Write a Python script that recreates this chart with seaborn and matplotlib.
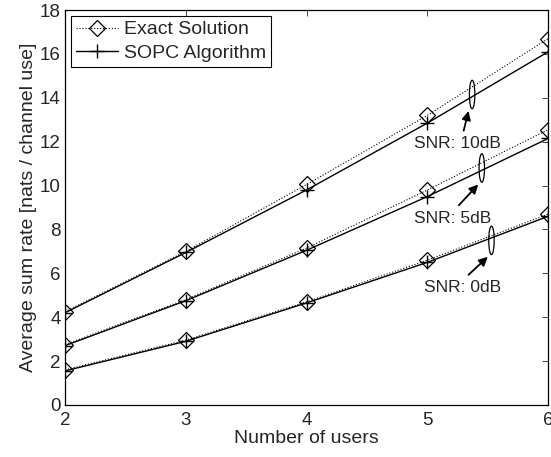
import pandas as pd
import matplotlib.pyplot as plt
import seaborn as sns
from matplotlib.patches import Ellipse
from matplotlib.lines import Line2D

#%% data
users = [2, 3, 4, 5, 6]
snr_labels = ['SNR: 10dB', 'SNR: 5dB', 'SNR: 0dB']
exact_10db = [4.25, 7.0, 10.05, 13.2, 16.7]
sopc_10db = [4.2, 6.95, 9.8, 12.85, 16.1]
exact_5db = [2.75, 4.8, 7.15, 9.8, 12.55]
sopc_5db = [2.7, 4.75, 7.05, 9.5, 12.15]
exact_0db = [1.6, 2.95, 4.7, 6.6, 8.7]
sopc_0db = [1.55, 2.9, 4.65, 6.5, 8.6]

rows = []
for snr, ex, so in zip(snr_labels, [exact_10db, exact_5db, exact_0db],
                       [sopc_10db, sopc_5db, sopc_0db]):
    for u, e, s in zip(users, ex, so):
        rows.append((snr, 'Exact Solution', u, e))
        rows.append((snr, 'SOPC Algorithm', u, s))
df = pd.DataFrame(rows, columns=['snr', 'method', 'users', 'rate'])

#%% plot
sns.set_style('white')
plt.rcParams['font.family'] = ['Liberation Sans', 'DejaVu Sans']
plt.rcParams['xtick.direction'] = 'in'
plt.rcParams['ytick.direction'] = 'in'

fig = plt.figure(figsize=(5.51, 4.57), dpi=100)
ax = fig.add_axes([0.118, 0.114, 0.877, 0.864])

for snr in snr_labels:
    d = df[df.snr == snr]
    sns.lineplot(data=d[d.method == 'Exact Solution'], x='users', y='rate', ax=ax,
                 color='black', linestyle=':', linewidth=0.8, marker='D',
                 markersize=8.5, markerfacecolor='none', markeredgecolor='black',
                 markeredgewidth=0.9)
    sns.lineplot(data=d[d.method == 'SOPC Algorithm'], x='users', y='rate', ax=ax,
                 color='black', linestyle='-', linewidth=1.0, marker='+',
                 markersize=10, markeredgecolor='black', markeredgewidth=1.0)

# ellipses + arrows for the SNR groups
ell_pos = [(5.37, 14.15), (5.45, 10.8), (5.53, 7.5)]
txt_pos = [(5.25, 11.9), (5.21, 8.5), (5.29, 5.33)]
for lab, (ex, ey), (tx, ty) in zip(snr_labels, ell_pos, txt_pos):
    ax.add_patch(Ellipse((ex, ey), 0.045, 1.3, fill=False, edgecolor='black', linewidth=0.9))
    ax.annotate('', xy=(ex - 0.03, ey - 0.75), xytext=(tx + 0.05, ty + 0.6),
                arrowprops=dict(arrowstyle='-|>', color='black', lw=1.3,
                                mutation_scale=13, shrinkA=0, shrinkB=0))
    ax.text(tx, ty, lab, ha='center', va='center', fontsize=12.5)

ax.set_xlim(2, 6)
ax.set_ylim(0, 18)
ax.set_xticks(users)
ax.set_yticks(range(0, 19, 2))
ax.tick_params(top=True, right=True, labelsize=13.5, length=4, width=0.6)
ax.tick_params(axis='x', pad=5)
ax.tick_params(axis='y', pad=3)
ax.set_xlabel('Number of users', fontsize=14, labelpad=1)
ax.set_ylabel('Average sum rate [nats / channel use]', fontsize=14, labelpad=2)
for s in ax.spines.values():
    s.set_color('black')
    s.set_linewidth(0.9)

handles = [Line2D([], [], color='black', linestyle=':', linewidth=0.8, marker='D',
                  markersize=8.5, markerfacecolor='none', markeredgewidth=0.9),
           Line2D([], [], color='black', linestyle='-', linewidth=1.0, marker='+',
                  markersize=10, markeredgewidth=1.0)]
leg = ax.legend(handles, ['Exact Solution', 'SOPC Algorithm'], loc='upper left',
                fontsize=14, frameon=True, fancybox=False, framealpha=1,
                borderaxespad=0.3, handlelength=2.2, handletextpad=0.3,
                borderpad=0.25, labelspacing=0.3)
leg.get_frame().set_edgecolor('black')
leg.get_frame().set_linewidth(0.8)

fig.savefig('out.png', dpi=100)
